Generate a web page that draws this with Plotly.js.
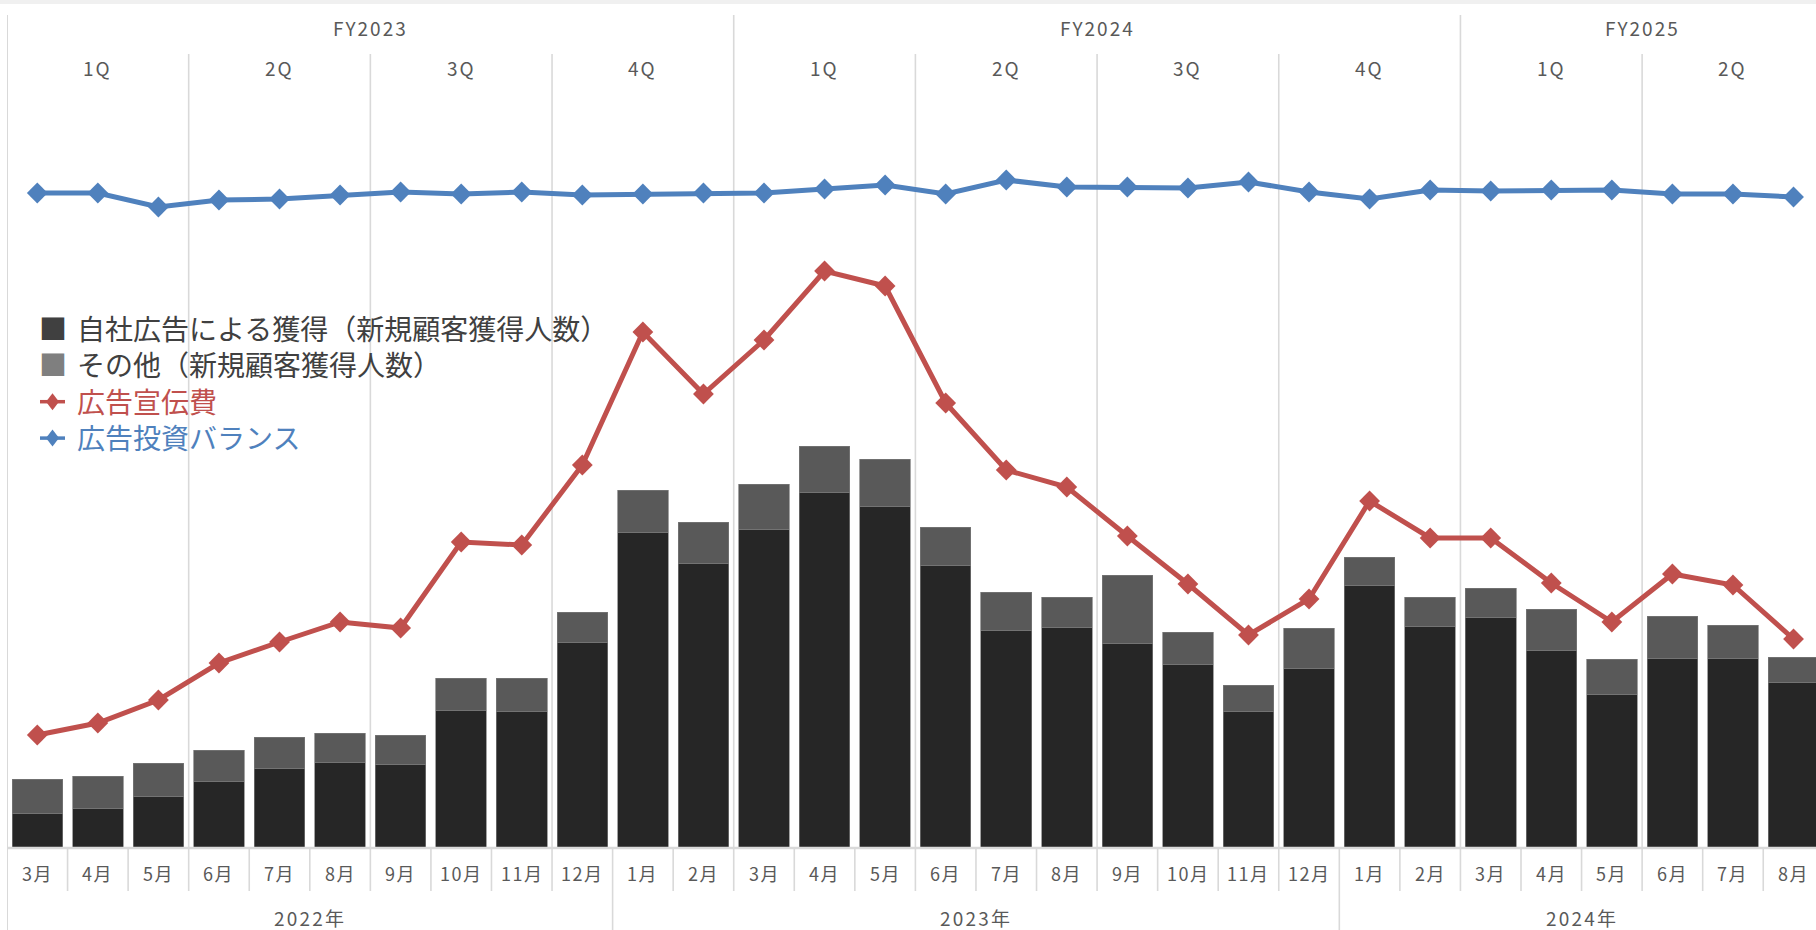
<!DOCTYPE html>
<html><head><meta charset="utf-8">
<script src="https://cdn.plot.ly/plotly-3.0.1.min.js"></script>
<style>html,body{margin:0;padding:0;background:#fff;}#chart{width:1816px;height:930px;}</style>
</head><body><div id="chart"></div>
<script>
// ---- data ----
const months = ['3月','4月','5月','6月','7月','8月','9月','10月','11月','12月',
  '1月','2月','3月','4月','5月','6月','7月','8月','9月','10月','11月','12月',
  '1月','2月','3月','4月','5月','6月','7月','8月'];
const yearLabels = ['2022年','2023年','2024年'];
const yearMonthCounts = [10, 12, 8];
const fyLabels = ['FY2023','FY2024','FY2025'];
const fyMonthCounts = [12, 12, 6];
const quarterLabels = ['1Q','2Q','3Q','4Q','1Q','2Q','3Q','4Q','1Q','2Q'];
const quarterMonthCounts = [3,3,3,3,3,3,3,3,3,3];

const ownAdAcquisition = [34, 39, 51, 66, 79, 85, 83, 137, 136, 205,
  315, 284, 318, 355, 341, 282, 217, 220, 204, 183, 136, 179,
  262, 221, 230, 197, 153, 189, 189, 165];
const otherAcquisition = [34, 32, 33, 31, 31, 29, 29, 32, 33, 30,
  42, 41, 45, 46, 47, 38, 38, 30, 68, 32, 26, 40,
  28, 29, 29, 41, 35, 42, 33, 25];
const adSpend = [112, 124, 147, 184, 205, 225, 219, 305, 302, 382,
  515, 453, 507, 576, 561, 444, 377, 360, 311, 263, 212, 248,
  346, 309, 309, 264, 225, 273, 262, 208];
const adBalance = [654, 654, 640, 647, 648, 652, 655, 653, 655, 652,
  653, 654, 654, 658, 662, 653, 667, 660, 660, 659, 665, 655,
  648, 657, 656, 657, 657, 653, 653, 650];

const seriesNames = ['自社広告による獲得（新規顧客獲得人数）','その他（新規顧客獲得人数）','広告宣伝費','広告投資バランス'];
const seriesColors = ['#262626','#595959','#c0504d','#4f81bd'];
const legendMarkerColors = ['#404040','#7f7f7f','#c0504d','#4f81bd'];
const legendTextColors = ['#404040','#404040','#c0504d','#4f81bd'];

// ---- geometry ----
const W = 1816, H = 930, ML = 7, MR = 0, MT = 0, MB = 83;
const cellW = 60.56;
const plotH = H - MT - MB;
const py = Y => (H - MB - Y) / plotH;        // pixel Y -> paper y
const pxp = X => (X - ML) / (W - ML - MR);   // pixel X -> paper x
const idx = months.map((_, i) => i);
const FONT = '"Noto Sans CJK JP", "Noto Sans", sans-serif';
const GRID = '#d9d9d9';
const TXT = '#595959';
const spaced = (t, ls) => `<span style="letter-spacing:${ls}px">${t}</span>`;

const traces = [
  {type:'bar', x: idx, y: ownAdAcquisition, name: seriesNames[0],
   marker:{color: seriesColors[0], line:{color:'#7a7a7a', width:0.7}}, hoverinfo:'y'},
  {type:'bar', x: idx, y: otherAcquisition, name: seriesNames[1],
   marker:{color: seriesColors[1], line:{color:'#7a7a7a', width:0.7}}, hoverinfo:'y'},
  {type:'scatter', mode:'lines+markers', x: idx, y: adSpend, name: seriesNames[2],
   line:{color: seriesColors[2], width:5}, marker:{symbol:'diamond', size:16, color: seriesColors[2]}, cliponaxis:false},
  {type:'scatter', mode:'lines+markers', x: idx, y: adBalance, name: seriesNames[3],
   line:{color: seriesColors[3], width:5}, marker:{symbol:'diamond', size:16, color: seriesColors[3]}, cliponaxis:false}
];

const shapes = [];
const annotations = [];

// top stripe
shapes.push({type:'rect', xref:'paper', yref:'paper', x0:-1, x1:2, y0:py(0), y1:py(4), fillcolor:'#f0f0f0', line:{width:0}, layer:'below'});

function groups(counts){ let s=0; return counts.map(c=>{ const g={start:s, end:s+c}; s+=c; return g; }); }

// quarter gridlines (through header Q row + plot)
groups(quarterMonthCounts).forEach((g, i) => {
  const xb = g.end - 0.5;
  if (g.end < months.length) {
    shapes.push({type:'line', xref:'x', yref:'paper', x0:xb, x1:xb, y0:py(847), y1:py(54), line:{color:GRID, width:1.6}, layer:'below'});
  }
  annotations.push({xref:'x', yref:'paper', x:(g.start + g.end - 1)/2, y:py(67), text: spaced(quarterLabels[i], 2), showarrow:false,
    xanchor:'center', yanchor:'middle', font:{family:FONT, size:19, color:TXT}});
});
// FY boundaries
groups(fyMonthCounts).forEach((g, i) => {
  const xb = g.end - 0.5;
  if (g.end < months.length) {
    shapes.push({type:'line', xref:'x', yref:'paper', x0:xb, x1:xb, y0:py(54), y1:py(15), line:{color:GRID, width:1.6}, layer:'below'});
  }
  annotations.push({xref:'x', yref:'paper', x:(g.start + g.end - 1)/2, y:py(27), text: spaced(fyLabels[i], 2), showarrow:false,
    xanchor:'center', yanchor:'middle', font:{family:FONT, size:19, color:TXT}});
});
// left border
shapes.push({type:'line', xref:'x', yref:'paper', x0:-0.5, x1:-0.5, y0:py(930), y1:py(15), line:{color:GRID, width:2}, layer:'below'});
// baseline
shapes.push({type:'line', xref:'paper', yref:'paper', x0:0, x1:1, y0:py(848), y1:py(848), line:{color:GRID, width:2.5}, layer:'above'});
// month separators and labels
months.forEach((m, i) => {
  if (i > 0) shapes.push({type:'line', xref:'x', yref:'paper', x0:i-0.5, x1:i-0.5, y0:py(891), y1:py(849), line:{color:GRID, width:1.6}});
  annotations.push({xref:'x', yref:'paper', x:i, y:py(873), text: spaced(m, 1.5), showarrow:false, xanchor:'center', yanchor:'middle',
    font:{family:FONT, size:18, color:TXT}});
});
// year separators and labels
groups(yearMonthCounts).forEach((g, i) => {
  const xb = g.end - 0.5;
  if (g.end < months.length) shapes.push({type:'line', xref:'x', yref:'paper', x0:xb, x1:xb, y0:py(930), y1:py(891), line:{color:GRID, width:1.6}});
  annotations.push({xref:'x', yref:'paper', x:(g.start + g.end - 1)/2, y:py(917), text: spaced(yearLabels[i], 2.2), showarrow:false,
    xanchor:'center', yanchor:'middle', font:{family:FONT, size:19, color:TXT}});
});

// legend (real text, multi-line blocks for square symbols and for labels; line symbols drawn as shapes)
const LEG_SIZE = 28;
const legStep = LEG_SIZE * 1.3;
const legCenter = 382;
const legRowY = seriesNames.map((_, i) => legCenter + (i - (seriesNames.length - 1) / 2) * legStep + 1.5);
const squareLines = [0, 1].map(i => `<span style="color:${legendMarkerColors[i]}">■</span>`);
annotations.push({xref:'paper', yref:'paper', x:pxp(53), y:py(legCenter - legStep), text: squareLines.join('<br>'), showarrow:false,
  xanchor:'center', yanchor:'middle', align:'center', borderpad:0, font:{family:FONT, size:LEG_SIZE, color:'#404040'}});
[2, 3].forEach(i => {
  const r = legRowY[i], cx = 52.5;
  shapes.push({type:'line', xref:'paper', yref:'paper', x0:pxp(40), x1:pxp(65), y0:py(r), y1:py(r),
    line:{color:legendMarkerColors[i], width:3.5}});
  shapes.push({type:'path', xref:'paper', yref:'paper',
    path:`M${pxp(cx)},${py(r-8.5)} L${pxp(cx+6.5)},${py(r)} L${pxp(cx)},${py(r+8.5)} L${pxp(cx-6.5)},${py(r)} Z`,
    fillcolor:legendMarkerColors[i], line:{width:0}});
});
const labelLines = seriesNames.map((n, i) => `<span style="color:${legendTextColors[i]}">${n}</span>`);
annotations.push({xref:'paper', yref:'paper', x:pxp(76), y:py(legCenter), text: labelLines.join('<br>'), showarrow:false,
  xanchor:'left', yanchor:'middle', align:'left', borderpad:0, font:{family:FONT, size:LEG_SIZE, color:'#404040'}});

const layout = {
  width: W, height: H,
  margin: {l:ML, r:MR, t:MT, b:MB, pad:0},
  paper_bgcolor:'#ffffff', plot_bgcolor:'#ffffff',
  barmode:'stack', bargap:0.165,
  showlegend:false,
  xaxis:{range:[-0.5, -0.5 + (W - ML - MR)/cellW], showgrid:false, zeroline:false, showticklabels:false, ticks:'', fixedrange:true},
  yaxis:{range:[0, plotH], showgrid:false, zeroline:false, showticklabels:false, ticks:'', fixedrange:true},
  shapes, annotations
};
Plotly.newPlot('chart', traces, layout, {displayModeBar:false, staticPlot:true});
</script></body></html>
